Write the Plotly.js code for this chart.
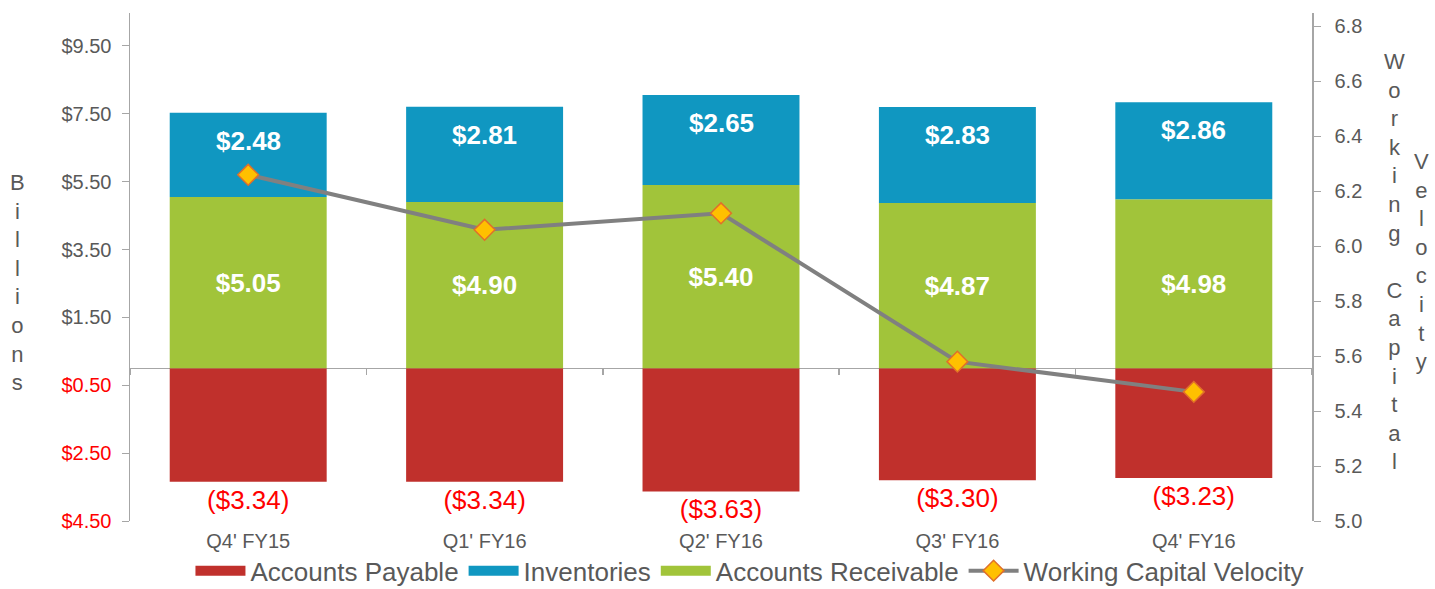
<!DOCTYPE html>
<html><head><meta charset="utf-8">
<script src="https://cdn.plot.ly/plotly-3.0.1.min.js"></script>
<style>html,body{margin:0;padding:0;background:#fff}#chart{width:1435px;height:589px}</style>
</head><body><div id="chart"></div>
<script>
const categories = ["Q4' FY15", "Q1' FY16", "Q2' FY16", "Q3' FY16", "Q4' FY16"];
const accountsPayable = [-3.34, -3.34, -3.63, -3.30, -3.23];
const accountsReceivable = [5.05, 4.90, 5.40, 4.87, 4.98];
const inventories = [2.48, 2.81, 2.65, 2.83, 2.86];
const velocity = [6.26, 6.06, 6.12, 5.58, 5.47];
const leftTickVals = [-4.5, -2.5, -0.5, 1.5, 3.5, 5.5, 7.5, 9.5];
const rightTickVals = [5.0, 5.2, 5.4, 5.6, 5.8, 6.0, 6.2, 6.4, 6.6, 6.8];

const FONT = '"Liberation Sans", Arial, sans-serif';
const GREY = '#595959';
const AXIS = '#A6A6A6';
const RED = '#C0302C', BLUE = '#1097C1', GREEN = '#A1C43A';
const Y_RANGE = [-4.5, 10.47];
const Y2_RANGE = [5.0, 6.849];
const X_RANGE = [-0.5, categories.length - 0.5];

const money = v => '$' + Math.abs(v).toFixed(2);
const leftTickText = leftTickVals.map(v => v < 0 ? '<span style="color:#FF0000">' + money(v) + '</span>' : money(v));

const traces = [
  {type: 'bar', x: categories, y: accountsPayable, name: 'Accounts Payable', showlegend: false,
   marker: {color: RED}, text: accountsPayable.map(v => '(' + money(v) + ')'),
   textposition: 'outside', cliponaxis: false, constraintext: 'none',
   outsidetextfont: {family: FONT, size: 26, color: '#FF0000'}},
  {type: 'bar', x: categories, y: accountsReceivable, name: 'Accounts Receivable', showlegend: false,
   marker: {color: GREEN}, text: accountsReceivable.map(money), textposition: 'inside',
   insidetextanchor: 'middle', constraintext: 'none',
   insidetextfont: {family: FONT, size: 26, color: '#FFFFFF', weight: 'bold'}},
  {type: 'bar', x: categories, y: inventories, name: 'Inventories', showlegend: false,
   marker: {color: BLUE}, textposition: 'none'},
  // legend entries (wide flat swatches like the original)
  {type: 'scatter', mode: 'lines', x: [null], y: [null], name: 'Accounts Payable', line: {color: RED, width: 10}, hoverinfo: 'skip'},
  {type: 'scatter', mode: 'lines', x: [null], y: [null], name: 'Inventories', line: {color: BLUE, width: 10}, hoverinfo: 'skip'},
  {type: 'scatter', mode: 'lines', x: [null], y: [null], name: 'Accounts Receivable', line: {color: GREEN, width: 10}, hoverinfo: 'skip'},
  {type: 'scatter', mode: 'lines+markers', x: categories, y: velocity, xaxis: 'x2', yaxis: 'y2', name: 'Working Capital Velocity',
   line: {color: '#808080', width: 4}, cliponaxis: false,
   marker: {symbol: 'diamond', size: 16, color: '#FFC000', line: {color: '#E0702A', width: 1.5}}}
];

const annotations = categories.map((c, i) => ({
  x: c, y: accountsReceivable[i] + inventories[i], xref: 'x', yref: 'y',
  yanchor: 'top', yshift: -11, showarrow: false,
  text: money(inventories[i]),
  font: {family: FONT, size: 26, color: '#FFFFFF', weight: 'bold'}
}));
const vert = s => s.split('').map(ch => ch === ' ' ? '&nbsp;' : ch).join('<br>');
annotations.push(
  {text: vert('Billions'), xref: 'paper', yref: 'paper', x: -0.0948, y: 0.47, xanchor: 'center', yanchor: 'middle',
   showarrow: false, font: {family: FONT, size: 22, color: GREY}},
  {text: vert('Working Capital'), xref: 'paper', yref: 'paper', x: 1.0702, y: 0.51, xanchor: 'center', yanchor: 'middle',
   showarrow: false, font: {family: FONT, size: 22, color: GREY}},
  {text: vert('Velocity'), xref: 'paper', yref: 'paper', x: 1.093, y: 0.51, xanchor: 'center', yanchor: 'middle',
   showarrow: false, font: {family: FONT, size: 22, color: GREY}}
);

const layout = {
  width: 1435, height: 589,
  margin: {l: 130, r: 123, t: 13, b: 68},
  paper_bgcolor: '#FFFFFF', plot_bgcolor: '#FFFFFF',
  font: {family: FONT, color: GREY},
  barmode: 'relative', bargap: 0.336,
  showlegend: true,
  legend: {orientation: 'h', xref: 'paper', x: 0.5245, xanchor: 'center',
           yref: 'container', y: 0.031, yanchor: 'middle', bgcolor: 'rgba(0,0,0,0)',
           font: {family: FONT, size: 26, color: GREY}, itemwidth: 50, traceorder: 'normal'},
  xaxis: {type: 'category', categoryarray: categories, range: X_RANGE, showline: false, showgrid: false, zeroline: false,
          ticks: '', ticklabelstandoff: 6, tickfont: {family: FONT, size: 20, color: GREY}},
  xaxis2: {type: 'category', categoryarray: categories, range: X_RANGE, overlaying: 'x', anchor: 'free',
           position: (0 - Y_RANGE[0]) / (Y_RANGE[1] - Y_RANGE[0]),
           tickson: 'boundaries', ticks: 'outside', ticklen: 6, tickcolor: AXIS, tickwidth: 1.5,
           showticklabels: false, showline: false, showgrid: false, zeroline: false},
  yaxis: {range: Y_RANGE, tickvals: leftTickVals, ticktext: leftTickText, showgrid: false,
          zeroline: true, zerolinecolor: AXIS, zerolinewidth: 1.5,
          showline: true, linecolor: AXIS, linewidth: 1.5, ticks: 'outside', ticklen: 7, tickcolor: AXIS,
          tickfont: {family: FONT, size: 20, color: GREY}, ticklabelstandoff: 6},
  yaxis2: {range: Y2_RANGE, overlaying: 'y', side: 'right', tickvals: rightTickVals, tickformat: '.1f',
           showgrid: false, zeroline: false, showline: true, linecolor: AXIS, linewidth: 1.5,
           ticks: 'outside', ticklen: 7, tickcolor: AXIS, ticklabelstandoff: 10,
           tickfont: {family: FONT, size: 20, color: GREY}},
  annotations: annotations
};

Plotly.newPlot('chart', traces, layout, {displayModeBar: false, staticPlot: true});
</script>
</body></html>
